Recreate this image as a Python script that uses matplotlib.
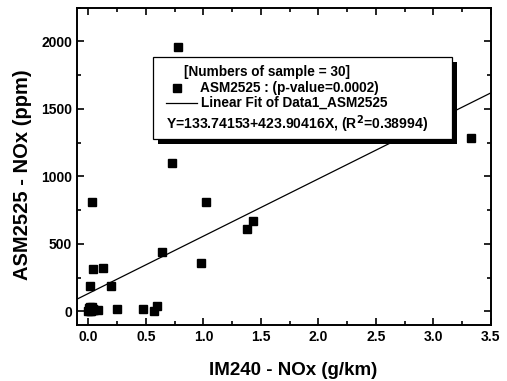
import matplotlib
matplotlib.use("Agg")
import matplotlib.pyplot as plt
from matplotlib.patches import Rectangle
from matplotlib.lines import Line2D
import numpy as np

plt.rcParams['font.family'] = ['Liberation Sans', 'DejaVu Sans']

# Data
im240_nox = [0.78, 0.73, 0.032, 1.02, 1.377, 1.43, 0.64, 0.98, 0.035, 0.13,
             0.009, 0.197, 0.252, 0.478, 0.597, 0.574, 0.084, 3.33,
             0.0, 0.005, 0.01, 0.015, 0.02, 0.025, 0.03, 0.035, 0.04, 0.012, 0.045, 0.022]
asm2525_nox = [1954, 1097, 813, 813, 611, 670, 443, 358, 318, 325,
               192, 190, 18, 20, 42, 0, 12, 1287,
               5, 25, 10, 30, 0, 15, 35, 8, 20, 2, 12, 28]

intercept = 133.74153
slope = 423.90416

xlim = (-0.1, 3.5)
ylim = (-100, 2250)
x_major = [0.0, 0.5, 1.0, 1.5, 2.0, 2.5, 3.0, 3.5]
y_major = [0, 500, 1000, 1500, 2000]

fig = plt.figure(figsize=(5.07, 3.81), dpi=100)
ax = fig.add_axes([77/507, 1-325/381, (490.7-77)/507, (325-7.5)/381])

ax.plot(im240_nox, asm2525_nox, 's', color='black', ms=5.5, zorder=3)
xf = np.array(xlim)
ax.plot(xf, intercept + slope*xf, '-', color='black', lw=0.9, zorder=2)

ax.set_xlim(*xlim)
ax.set_ylim(*ylim)
ax.set_xticks(x_major)
ax.set_xticks(np.arange(0.25, 3.5, 0.5), minor=True)
ax.set_yticks(y_major)
ax.set_yticks([250, 750, 1250, 1750, 2250], minor=True)
ax.set_xticklabels([f"{v:.1f}" for v in x_major], fontsize=10, fontweight='bold')
ax.set_yticklabels([str(v) for v in y_major], fontsize=10, fontweight='bold')
ax.tick_params(which='both', direction='in', top=True, right=True, width=1.2)
ax.tick_params(which='major', length=5)
ax.tick_params(which='minor', length=3)
for s in ax.spines.values():
    s.set_linewidth(1.4)
ax.set_xlabel("IM240 - NOx (g/km)", fontsize=13.5, fontweight='bold')
ax.xaxis.set_label_coords((293 - 77) / 413.7, -(362 - 325) / 317.5)
ax.set_ylabel("ASM2525 - NOx (ppm)", fontsize=14.5, fontweight='bold')
ax.yaxis.set_label_coords(-(77 - 32) / 413.7, (325 - 175) / 317.5)

# Legend box (pixel coords -> axes fraction)
def ax_xy(px, py):
    return ((px - 77) / 413.7, (325 - py) / 317.5)

bx0, by0 = ax_xy(153, 139)
bx1, by1 = ax_xy(452, 57)
dx, dy = 5/413.7, -5/317.5
ax.add_patch(Rectangle((bx0+dx, by0+dy), bx1-bx0, by1-by0, transform=ax.transAxes,
                       facecolor='black', edgecolor='black', lw=0, zorder=5))
ax.add_patch(Rectangle((bx0, by0), bx1-bx0, by1-by0, transform=ax.transAxes,
                       facecolor='white', edgecolor='black', lw=0.9, zorder=6))
fs = 9.8
fw = 'bold'
x, y = ax_xy(184, 72)
ax.text(x, y, "[Numbers of sample = 30]", transform=ax.transAxes, fontsize=fs, fontweight=fw, va='center', zorder=7)
x, y = ax_xy(177, 88)
ax.add_line(Line2D([x], [y], marker='s', color='black', ms=5.5, transform=ax.transAxes, zorder=7))
x, y = ax_xy(200, 88)
ax.text(x, y, "ASM2525 : (p-value=0.0002)", transform=ax.transAxes, fontsize=fs, fontweight=fw, va='center', zorder=7)
x0, y = ax_xy(166, 103)
x1, _ = ax_xy(197, 103)
ax.add_line(Line2D([x0, x1], [y, y], color='black', lw=0.9, transform=ax.transAxes, zorder=7))
x, y = ax_xy(201, 103)
ax.text(x, y, "Linear Fit of Data1_ASM2525", transform=ax.transAxes, fontsize=fs, fontweight=fw, va='center', zorder=7)
x, y = ax_xy(166, 124)
ax.text(x, y, r"Y=133.74153+423.90416X, (R$\mathbf{^2}$=0.38994)", transform=ax.transAxes, fontsize=10.1, fontweight=fw, va='center', zorder=7)

fig.savefig("out.png", dpi=100)
